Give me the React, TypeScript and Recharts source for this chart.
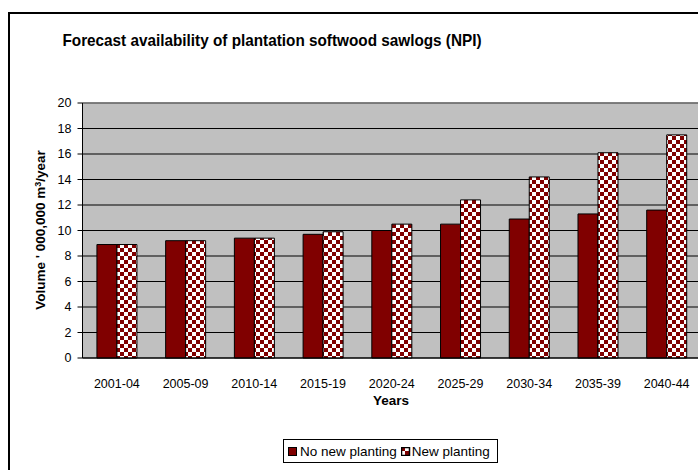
import { BarChart, Bar, XAxis, YAxis, CartesianGrid, ReferenceLine } from 'recharts';

const periods = ['2001-04', '2005-09', '2010-14', '2015-19', '2020-24', '2025-29', '2030-34', '2035-39', '2040-44'];
const noNewPlanting = [8.9, 9.2, 9.4, 9.7, 10.0, 10.5, 10.9, 11.3, 11.6];
const newPlanting = [8.9, 9.2, 9.4, 9.9, 10.5, 12.4, 14.2, 16.1, 17.5];
const yTicks = [0, 2, 4, 6, 8, 10, 12, 14, 16, 18, 20];

const data = periods.map((period, i) => ({
  period,
  noNew: noNewPlanting[i],
  withNew: newPlanting[i],
}));

const font = '"Liberation Sans", Arial, sans-serif';
const darkRed = '#800000';

function LegendBox() {
  return (
    <div
      style={{
        position: 'absolute',
        left: 283,
        top: 439,
        width: 213,
        height: 22,
        border: '1px solid #000',
        background: '#fff',
        display: 'flex',
        alignItems: 'center',
        fontFamily: font,
        fontSize: 13.5,
        color: '#000',
        whiteSpace: 'nowrap',
      }}
    >
      <svg width={9} height={9} style={{ marginLeft: 4, marginRight: 3 }}>
        <rect x={0.5} y={0.5} width={8} height={8} fill={darkRed} stroke="#000" />
      </svg>
      <span>No new planting</span>
      <svg width={10} height={9} style={{ marginLeft: 4, marginRight: 1 }}>
        <rect x={0.5} y={0.5} width={8} height={8} fill="url(#checker)" stroke="#000" strokeWidth={1.5} />
      </svg>
      <span>New planting</span>
    </div>
  );
}

export default function App() {
  return (
    <div style={{ position: 'fixed', left: 0, top: 0, width: 698, height: 470, overflow: 'hidden', background: '#fff' }}>
      <svg width={0} height={0} style={{ position: 'absolute' }}>
        <defs>
          <pattern id="checker" width={8} height={8} patternUnits="userSpaceOnUse">
            <rect width={8} height={8} fill="#fff" />
            <rect x={0} y={0} width={4} height={4} fill={darkRed} />
            <rect x={4} y={4} width={4} height={4} fill={darkRed} />
          </pattern>
        </defs>
      </svg>

      {/* chart frame, cropped on right and bottom */}
      <div style={{ position: 'absolute', left: 8, top: 12, width: 800, height: 600, border: '2px solid #000' }} />

      <div
        style={{
          position: 'absolute',
          left: 272,
          top: 31,
          transform: 'translateX(-50%) scaleX(0.9)',
          fontFamily: font,
          fontWeight: 'bold',
          fontSize: 17,
          lineHeight: '20px',
          whiteSpace: 'nowrap',
        }}
      >
        Forecast availability of plantation softwood sawlogs (NPI)
      </div>

      <div
        style={{
          position: 'absolute',
          left: 40,
          top: 230,
          transform: 'translate(-50%, -50%) rotate(-90deg)',
          fontFamily: font,
          fontWeight: 'bold',
          fontSize: 13.5,
          whiteSpace: 'nowrap',
        }}
      >
        Volume ' 000,000 m<sup style={{ fontSize: 9, verticalAlign: 'top', lineHeight: '10px' }}>3</sup>/year
      </div>

      <div
        style={{
          position: 'absolute',
          left: 391,
          top: 400,
          transform: 'translate(-50%, -50%)',
          fontFamily: font,
          fontWeight: 'bold',
          fontSize: 13.5,
          whiteSpace: 'nowrap',
        }}
      >
        Years
      </div>

      <div style={{ position: 'absolute', left: 0, top: 0 }}>
        <BarChart
          width={701}
          height={470}
          data={data}
          margin={{ top: 103, right: 0, bottom: 82, left: 0 }}
          barGap={0}
          barCategoryGap="21%"
        >
          <CartesianGrid vertical={false} stroke="#000" fill="#C0C0C0" fillOpacity={1} />
          <ReferenceLine y={20} stroke="#808080" strokeWidth={1.5} />
          <XAxis
            dataKey="period"
            height={30}
            tickLine={false}
            axisLine={{ stroke: '#000' }}
            tickMargin={15}
            tick={{ fill: '#000', fontSize: 12.5, fontFamily: font }}
            interval={0}
          />
          <YAxis
            width={82.5}
            domain={[0, 20]}
            ticks={yTicks}
            interval={0}
            tickSize={5}
            tickMargin={6}
            tickLine={{ stroke: '#000' }}
            axisLine={{ stroke: '#000' }}
            tick={{ fill: '#000', fontSize: 12.5, fontFamily: font }}
          />
          <Bar dataKey="noNew" fill={darkRed} stroke="#000" strokeWidth={1} isAnimationActive={false} />
          <Bar dataKey="withNew" fill="url(#checker)" stroke="#000" strokeWidth={1} isAnimationActive={false} />
        </BarChart>
      </div>

      <LegendBox />
    </div>
  );
}
